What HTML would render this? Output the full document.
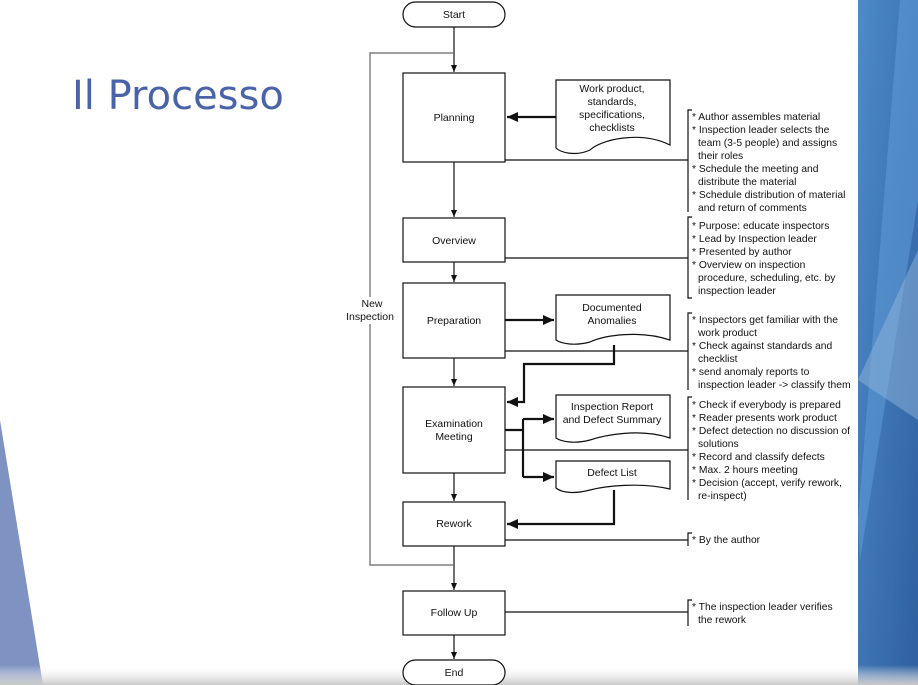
<!DOCTYPE html>
<html><head><meta charset="utf-8"><style>
html,body{margin:0;padding:0;background:#fff;}
svg{display:block;font-family:"Liberation Sans",Arial,sans-serif;}
</style></head><body>
<svg width="918" height="685" viewBox="0 0 918 685" xmlns="http://www.w3.org/2000/svg">
<defs>
<marker id="a" markerWidth="8" markerHeight="8" refX="7" refY="4" orient="auto" markerUnits="userSpaceOnUse"><path d="M0,1 L7,4 L0,7z" fill="#111"/></marker>
<marker id="b" markerWidth="12" markerHeight="12" refX="11" refY="6" orient="auto" markerUnits="userSpaceOnUse"><path d="M0,1 L11,6 L0,11z" fill="#111"/></marker>
<linearGradient id="bl" x1="0" y1="0" x2="1" y2="1"><stop offset="0" stop-color="#4d8bc8"/><stop offset="1" stop-color="#2f5f9e"/></linearGradient>
<linearGradient id="bt" x1="0" y1="0" x2="0" y2="1"><stop offset="0" stop-color="#fff" stop-opacity="0"/><stop offset="1" stop-color="#c8c8c8"/></linearGradient>
</defs>
<rect width="918" height="685" fill="#fff"/>
<polygon points="0,420 43,685 0,685" fill="#7f93c3"/>
<rect x="858" y="0" width="60" height="685" fill="url(#bl)"/>
<polygon points="858,520 900,0 918,0 918,200 860,560" fill="#5e9ad3" opacity="0.6"/>
<polygon points="858,380 918,250 918,420" fill="#8fb4dc" opacity="0.5"/>
<rect x="0" y="665" width="918" height="20" fill="url(#bt)"/>
<text x="72" y="109" font-size="40" fill="#4a62a8" font-family="'DejaVu Sans','Liberation Sans',sans-serif">Il Processo</text>

<g stroke="#111" fill="none" stroke-width="1.2">
<rect x="403" y="2" width="102" height="25" rx="12.5" fill="#fff"/>
<rect x="403" y="73" width="102" height="89" fill="#fff"/>
<rect x="403" y="218" width="102" height="44" fill="#fff"/>
<rect x="403" y="283" width="102" height="75" fill="#fff"/>
<rect x="403" y="387" width="102" height="86" fill="#fff"/>
<rect x="403" y="502" width="102" height="44" fill="#fff"/>
<rect x="403" y="591" width="102" height="44" fill="#fff"/>
<rect x="403" y="660" width="102" height="25" rx="12.5" fill="#fff"/>
<path d="M556,80 H670 V145 C640,130 600,140 590,150 C575,157 560,152 556,148 Z" fill="#fff"/>
<path d="M556,295 H670 V340 C640,330 605,335 590,342 C575,346 562,344 556,340 Z" fill="#fff"/>
<path d="M556,395 H670 V438 C640,428 605,435 590,440 C575,444 562,442 556,438 Z" fill="#fff"/>
<path d="M556,461 H670 V489 C640,482 605,486 590,490 C575,494 562,493 556,488 Z" fill="#fff"/>
<path d="M454,27 V72" marker-end="url(#a)"/>
<path d="M454,162 V217" marker-end="url(#a)"/>
<path d="M454,262 V282" marker-end="url(#a)"/>
<path d="M454,358 V386" marker-end="url(#a)"/>
<path d="M454,473 V501" marker-end="url(#a)"/>
<path d="M454,546 V590" marker-end="url(#a)"/>
<path d="M454,635 V659" marker-end="url(#a)"/>
<path d="M454,53 H370 V565 H454" stroke="#666"/>
<path d="M505,160 H688"/><path d="M505,258 H688"/><path d="M505,351 H688"/>
<path d="M505,450 H688"/><path d="M505,540 H688"/><path d="M505,612 H688"/>
<path d="M692,110 H688 V212"/><path d="M692,217 H688 V298 H692"/>
<path d="M692,313 H688 V390"/><path d="M692,397 H688 V500"/>
<path d="M692,533 H688 V546"/><path d="M692,600 H688 V626"/>
</g>
<rect x="345" y="297" width="50" height="27" fill="#fff"/>
<g stroke="#111" fill="none" stroke-width="2.2">
<path d="M556,117 H507" marker-end="url(#b)"/>
<path d="M505,320 H554" marker-end="url(#b)"/>
<path d="M614,345 V364 H524 V402 H507" marker-end="url(#b)"/>
<path d="M505,430 H523"/>
<path d="M523,419 V477"/>
<path d="M523,419 H554" marker-end="url(#b)"/>
<path d="M523,477 H554" marker-end="url(#b)"/>
<path d="M614,490 V524 H507" marker-end="url(#b)"/>
</g>
<g font-size="10.5" fill="#111" text-anchor="middle">
<text x="454" y="18">Start</text>
<text x="454" y="121">Planning</text>
<text x="454" y="244">Overview</text>
<text x="454" y="324">Preparation</text>
<text x="454" y="427">Examination</text>
<text x="454" y="440">Meeting</text>
<text x="454" y="527">Rework</text>
<text x="454" y="616">Follow Up</text>
<text x="454" y="676">End</text>
<text x="612" y="92">Work product,</text>
<text x="612" y="105">standards,</text>
<text x="612" y="118">specifications,</text>
<text x="612" y="131">checklists</text>
<text x="612" y="311">Documented</text>
<text x="612" y="324">Anomalies</text>
<text x="612" y="410">Inspection Report</text>
<text x="612" y="423">and Defect Summary</text>
<text x="612" y="476">Defect List</text>
<text x="372" y="307">New</text>
<text x="370" y="320">Inspection</text>
</g>
<g font-size="10.3" fill="#111">
<text x="692" y="120">* Author assembles material</text>
<text x="692" y="133">* Inspection leader selects the</text>
<text x="698" y="146">team (3-5 people) and assigns</text>
<text x="698" y="159">their roles</text>
<text x="692" y="172">* Schedule the meeting and</text>
<text x="698" y="185">distribute the material</text>
<text x="692" y="198">* Schedule distribution of material</text>
<text x="698" y="211">and return of comments</text>
<text x="692" y="229">* Purpose: educate inspectors</text>
<text x="692" y="242">* Lead by Inspection leader</text>
<text x="692" y="255">* Presented by author</text>
<text x="692" y="268">* Overview on inspection</text>
<text x="698" y="281">procedure, scheduling, etc.  by</text>
<text x="698" y="294">inspection leader</text>
<text x="692" y="323">* Inspectors get familiar with the</text>
<text x="698" y="336">work product</text>
<text x="692" y="349">* Check against standards and</text>
<text x="698" y="362">checklist</text>
<text x="692" y="375">* send anomaly reports to</text>
<text x="698" y="388">inspection leader -&gt; classify them</text>
<text x="692" y="408">* Check if everybody is prepared</text>
<text x="692" y="421">* Reader presents work product</text>
<text x="692" y="434">* Defect detection no discussion of</text>
<text x="698" y="447">solutions</text>
<text x="692" y="460">* Record and classify defects</text>
<text x="692" y="473">* Max. 2 hours meeting</text>
<text x="692" y="486">* Decision (accept, verify rework,</text>
<text x="698" y="499">re-inspect)</text>
<text x="692" y="543">* By the author</text>
<text x="692" y="610">* The inspection leader verifies</text>
<text x="698" y="623">the rework</text>
</g>
</svg>
</body></html>
